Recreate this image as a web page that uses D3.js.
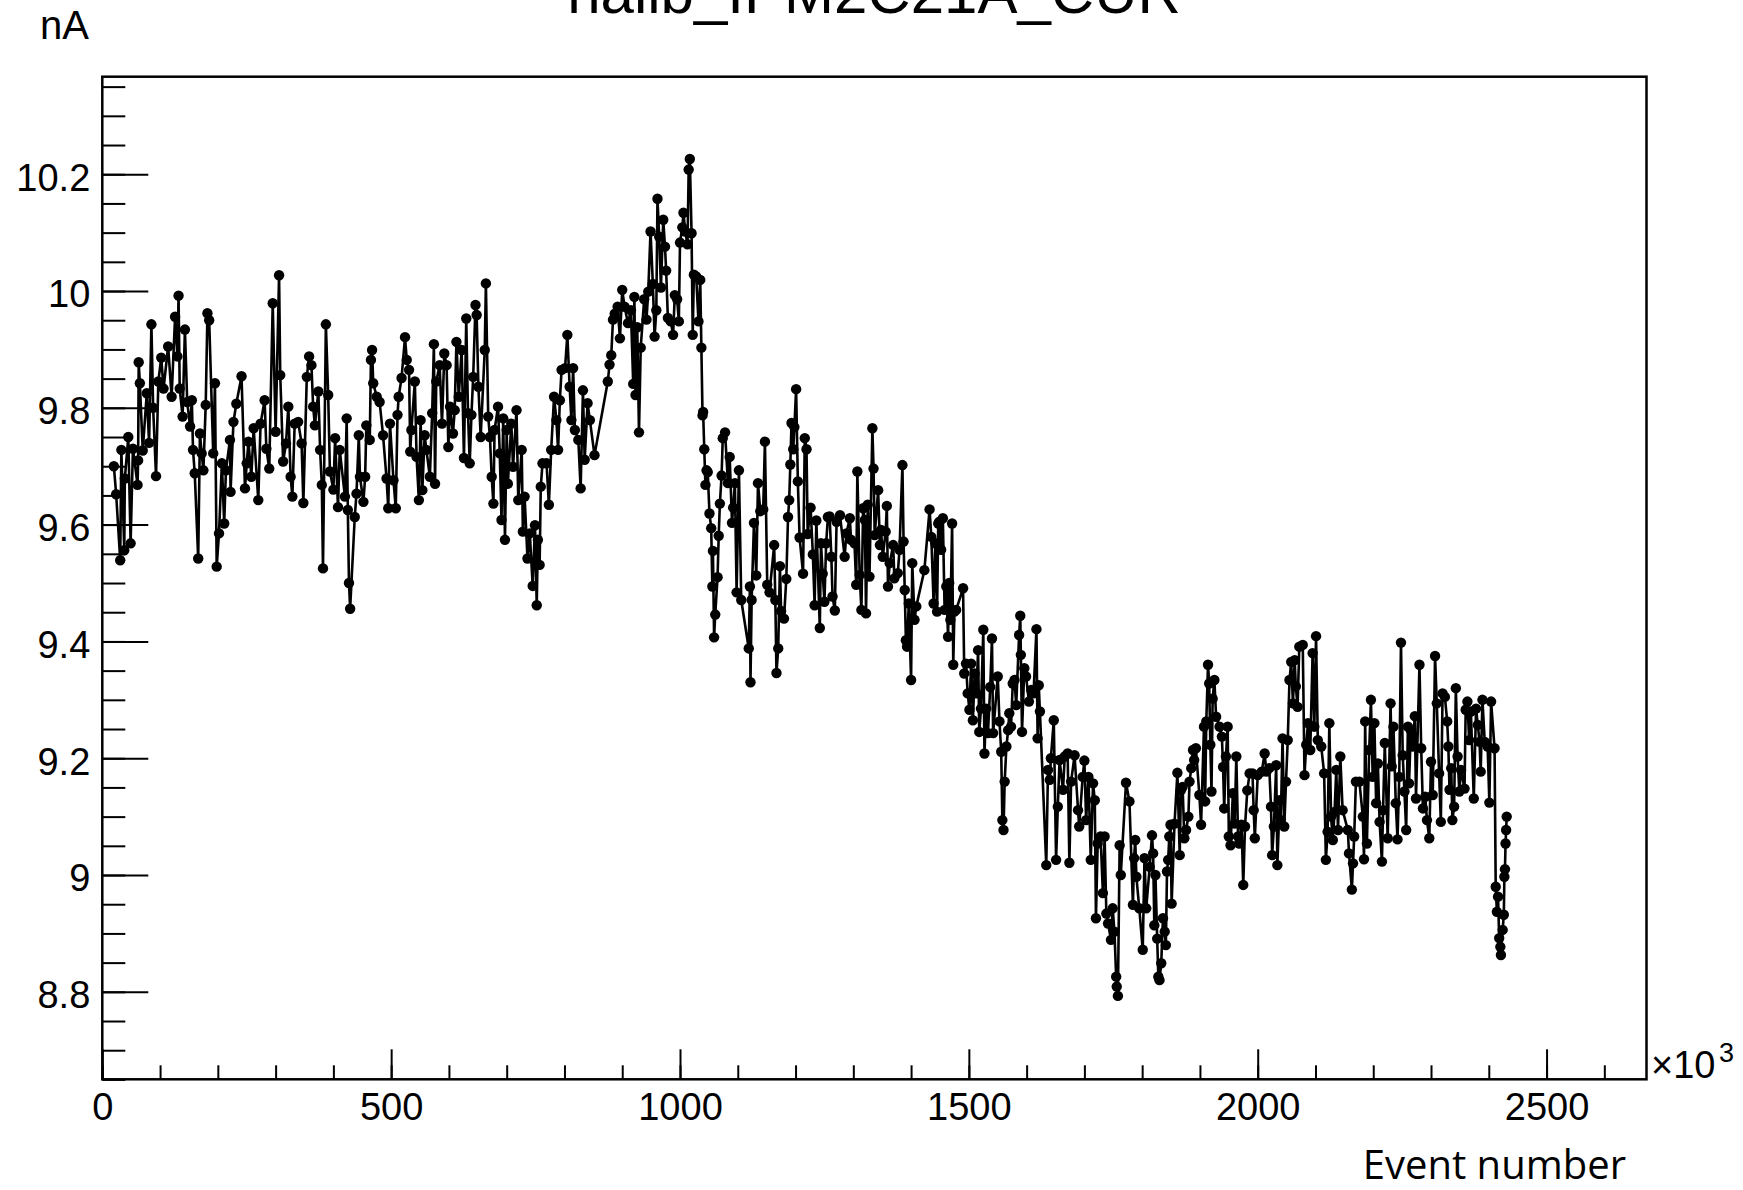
<!DOCTYPE html>
<meta charset="utf-8">
<style>
  body { margin: 0; background: #fff; }
  svg { display: block; }
  text { font-family: "Liberation Sans", Arial, sans-serif; fill: #000; }
</style>
<body>
<script src="https://d3js.org/d3.v7.min.js"></script>
<script>
var titleText = "hallb_IPM2C21A_CUR";
var yUnit = "nA";
var xTitle = "Event number";
var xExponent = "3";

// event number (x10^3)
var eventNumber = [
  20,24,31,33,38,39,45,49,53,61, 62,63,65,70,77,81,85,88,93,97,
  102,106,114,120,126,130,132,134,139,143, 147,152,155,157,160,166,169,172,175,179,
  182,185,192,195,198,202,207,211,214,221, 222,227,232,241,247,250,253,258,262,270,
  274,281,284,289,295,300,306,308,313,318, 322,326,329,333,339,345,348,354,358,362,
  365,368,374,377,380,382,387,391,394,400, 403,408,411,420,423,425,427,429,
  437,440,444,446,452,455,457,463,465,467, 469,475,480,486,492,495,498,504,508,511,
  513,518,524,527,531,533,535,541,544,548, 551,554,558,561,567,571,574,576,578,584,
  588,592,596,599,602,607,610,613,617,622, 626,630,633,636,639,642,646,648,651,655,
  662,664,668,671,674,677,679,685,688,691, 694,697,700,702,708,711,717,720,726,728,
  731,736,740,745,749,752,754,757,759,762, 769,773,777,782,786,789,792,795,801,805,
  809,812,815,818,824,828,832,835,840,844,
  852,875,878,881,884,887,892,896,900,904, 910,915,919,921,923,926,929,932,938,942,
  945,949,953,956,959,961,964,967,971,974, 976,979,984,988,991,995,998,1000,1004,1006,
  1009,1013,1015,1017,1020,1022,1024,1028,1032,1035, 1037,1039,1040,1042,1044,1046,1048,1051,1054,1056,
  1057,1059,1061,1065,1067,1069,1072,1074,1078,1083, 1086,1090,1092,1095,1098,1102,1106,1119,1121,1122,
  1124,1128,1132,1135,1139,1144,1147,1151,1155,1163, 1165,1167,1170,1173,1175,1180,1184,1187,1189,1191,
  1193,1196,1198,1201,1204,1207,1213,1216,1219,1221, 1226,1230,1233,1236,1242,1244,1247,1250,1253,1256,
  1259,1262,1264,1268,1271,1277,1285,1288,1294,1296, 1302,1305,1307,1311,1314,1317,1320,1322,1325,1328,
  1333,1335,1337,1343,1346,1348,1351,1356,1358,1360, 1363,1369,1371,1377,1380,1385,1387,1389,1391,1393,
  1396,1400,1402,1406,1409,1423,1432,1435,1439,1442, 1445,1447,1449,1452,1455,1458,1461,1464,1466,1468,
  1471,1473,1475,1478,1490,1492,1495,1498,1501,1504, 1507,1510,1513,1516,1518,1521,1525,1527,1530,1533,
  1537,1540,1542,1550,1553,1556,1558,1560,1562,1565, 1568,1570,1573,1576,1579,1582,1587,1589,1590,1592,
  1596,1599,1604,1608,1612,1617,1619,1621,1623,1634, 1637,1640,1642,1647,1651,1654,1657,1663,
  1666,1671,1674,1677,1683,1689,1691,1697,1700,1703, 1707,1711,1715,1718,1720,1723,1728,1732,1735,1738,
  1741,1746,1749,1752,1755,1756,1758,1761,1763,1772, 1778,1784,1786,1788,1790,1795,1801,1804,1807,1813,
  1817,1819,1821,1823,1826,1828,1830,1833,1836,1839, 1841,1843,1845,1847,1849,1851,1856,1861,1865,1867,
  1870,1873,1876,1880,1882,1885,1888,1890,1893,1899, 1902,1907,1909,1911,1914,1916,1918,1920,1922,1925,
  1928,1934,1938,1940,1942,1945,1948,1950,1953,1957, 1960,1963,1966,1968,1972,1975,1978,1982,1986,1991,
  1993,1995,2000,2007,2012,2015,2020,2023,2025,2028, 2032,2034,2038,2040,2043,2046,2049,2052,2055,2058,
  2061,
  2064,2066,2069,2072,2078,2081,2084,2087,2091,2095, 2098,2101,2104,2110,2115,2118,2121,2124,2127,2130,
  2133,2136,2139,2143,2147,2156,2158,2163,2165,2167, 2170,2176,2182,2184,2186,2189,2193,2196,2199,2202,
  2205,2208,2211,2215,2217,2220,2225,2230,2232,2235, 2239,2242,2245,2248,2251,2254,2257,2260,2262,2265,
  2268,2272,2274,2280,2283,2286,2290,2293,2297,2300, 2303,2307,2310,2314,2317,2320,2324,2328,2330,2332,
  2335,2337,2340,2343,2346,2349,2352,2358,2360,2363, 2366,2369,2374,2378,2381,2384,2386,2389,2393,2398,
  2401,2404,2410,2412,2414,2416,2418,2420,2421,2424, 2426,2427,2428,2429,2430,2431
];

// beam current (nA)
var current = [
  9.70,9.652,9.539,9.728,9.556,9.679,9.75,9.568,9.73,9.668, 9.71,9.878,9.842,9.727,9.825,9.74,9.943,9.80,9.683,9.845,
  9.886,9.833,9.905,9.819,9.956,9.888,9.992,9.833,9.785,9.934, 9.81,9.768,9.813,9.728,9.688,9.542,9.756,9.722,9.693,9.805,
  9.962,9.95,9.722,9.842,9.528,9.585,9.705,9.602,9.693,9.745, 9.656,9.776,9.807,9.854,9.662,9.705,9.742,9.682,9.765,9.642,
  9.773,9.813,9.73,9.696,9.979,9.759,10.027,9.856,9.708,9.739, 9.802,9.682,9.648,9.773,9.776,9.739,9.637,9.853,9.888,9.873,
  9.802,9.77,9.828,9.728,9.668,9.525,9.943,9.822,9.691,9.66, 9.748,9.63,9.728,9.648,9.782,9.625,9.50,9.456,
  9.613,9.653,9.753,9.682,9.639,9.682,9.77,9.745,9.882,9.899, 9.842,9.819,9.81,9.753,9.679,9.628,9.773,9.676,9.628,9.788,
  9.819,9.851,9.921,9.882,9.865,9.725,9.762,9.845,9.716,9.642, 9.779,9.659,9.753,9.728,9.682,9.791,9.909,9.67,9.845,9.873,
  9.773,9.893,9.873,9.733,9.802,9.756,9.796,9.913,9.819,9.899, 9.714,9.953,9.791,9.705,9.788,9.853,9.976,9.959,9.836,9.75,
  9.899,10.013,9.785,9.75,9.682,9.636,9.762,9.802,9.722,9.608, 9.782,9.574,9.762,9.67,9.773,9.699,9.796,9.642,9.728,9.588,
  9.648,9.542,9.585,9.495,9.599,9.462,9.574,9.531,9.665,9.705, 9.705,9.634,9.728,9.819,9.779,9.728,9.813,9.865,9.868,9.925,
  9.836,9.779,9.868,9.762,9.745,9.662,9.83,9.711,9.808,9.779,
  9.719,9.845,9.874,9.890,9.951,9.961,9.973,9.919,10.002,9.973, 9.945,9.967,9.841,9.990,9.822,9.938,9.758,9.903,9.986,9.951,
  9.999,10.102,10.012,9.922,9.967,10.158,10.093,10.006,10.122,10.076, 10.035,9.954,9.948,9.925,9.993,9.986,9.948,10.083,10.109,10.134,
  10.102,10.080,10.208,10.226,10.099,9.925,10.028,10.025,9.948,10.019, 9.903,9.787,9.793,9.729,9.668,9.693,9.690,9.619,9.594,9.494,
  9.555,9.407,9.446,9.510,9.581,9.636,9.684,9.748,9.758,9.671, 9.716,9.603,9.629,9.671,9.484,9.693,9.471,9.388,9.494,9.330,
  9.471,9.603,9.513,9.671,9.623,9.626,9.742,9.497,9.484,9.565, 9.471,9.346,9.388,9.529,9.452,9.439,9.507,9.613,9.642,9.703,
  9.774,9.729,9.767,9.832,9.674,9.578,9.516,9.748,9.729,9.584, 9.629,9.549,9.462,9.607,9.423,9.568,9.516,9.468,9.568,9.613,
  9.614,9.545,9.477,9.453,9.605,9.616,9.545,9.585,9.611,9.574, 9.568,9.497,9.691,9.514,9.454,9.628,9.608,9.448,9.634,9.511,
  9.765,9.696,9.582,9.659,9.565,9.591,9.545,9.588,9.632,9.494, 9.534,9.565,9.508,9.517,9.557,9.702,9.571,9.488,9.402,9.391,
  9.465,9.334,9.534,9.437,9.46,9.522,9.626,9.579,9.465,9.568, 9.451,9.602,9.605,9.557,9.611,9.454,9.494,9.408,9.5,9.437,
  9.602,9.36,9.451,9.454,9.491,9.345,9.362,9.311,9.283,9.362, 9.265,9.345,9.311,9.385,9.245,9.285,9.42,9.208,9.285,9.243,
  9.322,9.405,9.243,9.34,9.263,9.211,9.094,9.077,9.16,9.22, 9.248,9.277,9.254,9.328,9.334,9.291,9.411,9.444,9.377,9.245,
  9.354,9.34,9.297,9.317,9.311,9.421,9.234,9.325,9.28,9.017, 9.18,9.163,9.2,9.265,9.026,9.117,9.197,9.146,
  9.203,9.208,9.021,9.16,9.205,9.111,9.083,9.168,9.196,9.094, 9.168,9.026,9.157,9.128,8.926,9.054,9.066,8.969,9.066,8.934,
  8.917,8.889,8.943,8.903,8.826,8.809,8.793,9.051,9.0,9.158, 9.126,8.949,9.029,9.06,8.997,8.943,8.872,9.029,8.943,9.014,
  9.068,9.037,8.914,9.0,8.891,8.826,8.82,8.849,8.926,8.903, 8.88,9.006,9.026,9.066,9.086,8.951,9.088,9.175,9.034,9.145,
  9.151,9.063,9.077,9.1,9.16,9.183,9.214,9.197,9.217,9.137, 9.086,9.254,9.126,9.263,9.36,9.328,9.223,9.143,9.302,9.334,
  9.271,9.254,9.237,9.185,9.114,9.203,9.254,9.066,9.051,9.14, 9.088,9.203,9.066,9.054,9.086,8.983,9.083,9.145,9.174,9.174,
  9.111,9.063,9.171,9.177,9.208,9.177,9.183,9.117,9.034,9.083, 9.188,9.017,9.128,9.094,9.234,9.083,9.16,9.231,9.334,9.365,
  9.294,
  9.368,9.323,9.288,9.391,9.394,9.171,9.223,9.26,9.214,9.38, 9.254,9.409,9.231,9.22,9.174,9.026,9.074,9.26,9.1,9.06,
  9.108,9.18,9.077,9.203,9.111,9.077,9.037,8.975,9.02,9.066, 9.16,9.16,9.1,9.027,9.263,9.054,9.214,9.3,9.168,9.26,
  9.123,9.191,9.091,9.023,9.111,9.226,9.063,9.294,9.186,9.254, 9.123,9.061,9.168,9.398,9.205,9.143,9.077,9.254,9.157,9.248,
  9.22,9.272,9.131,9.36,9.217,9.114,9.134,9.094,9.063,9.194, 9.137,9.375,9.294,9.174,9.091,9.311,9.305,9.263,9.22,9.146,
  9.183,9.094,9.117,9.32,9.203,9.143,9.18,9.148,9.283,9.297, 9.231,9.28,9.131,9.285,9.257,9.228,9.177,9.3,9.228,9.22,
  9.124,9.297,9.217,8.98,8.937,8.963,8.892,8.877,8.863,8.906, 8.932,8.997,9.01,9.054,9.077,9.1
];

var yTickValues = [8.8, 9, 9.2, 9.4, 9.6, 9.8, 10, 10.2];
var yTickLabels = ["8.8", "9", "9.2", "9.4", "9.6", "9.8", "10", "10.2"];
var xTickValues = [0, 500, 1000, 1500, 2000, 2500];
var xTickLabels = ["0", "500", "1000", "1500", "2000", "2500"];

if (eventNumber.length != current.length) console.error("length mismatch", eventNumber.length, current.length);

var data = eventNumber.map(function(e, i){ return {x: e, y: current[i]}; });

var W = 1743, H = 1190;
var frame = {left: 102.3, right: 1646.5, top: 76.7, bottom: 1079.3};

var svg = d3.select("body").append("svg")
  .attr("width", W)
  .attr("height", H);

var x = d3.scaleLinear().domain([0, 2673]).range([frame.left, frame.right]);
var y = d3.scaleLinear().domain([8.6502, 10.367]).range([frame.bottom, frame.top]);

//minor ticks
var yMinor = d3.range(173, 208).map(function(i){ return i * 0.05; });
var xMinor = d3.range(0, 27).map(function(i){ return i * 100; });

svg.append("g")
  .attr("transform", "translate(" + frame.left + ",0)")
  .call(d3.axisLeft(y).tickValues(yMinor).tickSize(-23).tickSizeOuter(0).tickFormat(""))
  .call(function(g){ g.select(".domain").remove(); g.selectAll("line").attr("stroke-width", 2); });

svg.append("g")
  .attr("transform", "translate(0," + frame.bottom + ")")
  .call(d3.axisBottom(x).tickValues(xMinor).tickSize(-14).tickSizeOuter(0).tickFormat(""))
  .call(function(g){ g.select(".domain").remove(); g.selectAll("line").attr("stroke-width", 2); });

//major ticks + labels
svg.append("g")
  .attr("transform", "translate(" + frame.left + ",0)")
  .call(d3.axisLeft(y).tickValues(yTickValues).tickSize(-46).tickSizeOuter(0).tickPadding(12)
    .tickFormat(function(d, i){ return yTickLabels[i]; }))
  .call(function(g){
    g.select(".domain").remove();
    g.selectAll("line").attr("stroke-width", 2);
    g.selectAll("text").attr("dy", "0.42em")
      .style("font-family", "'Liberation Sans', Arial, sans-serif").style("font-size", "38px");
  });

svg.append("g")
  .attr("transform", "translate(0," + frame.bottom + ")")
  .call(d3.axisBottom(x).tickValues(xTickValues).tickSize(-30).tickSizeOuter(0).tickPadding(14)
    .tickFormat(function(d, i){ return xTickLabels[i]; }))
  .call(function(g){
    g.select(".domain").remove();
    g.selectAll("line").attr("stroke-width", 2);
    g.selectAll("text")
      .style("font-family", "'Liberation Sans', Arial, sans-serif").style("font-size", "38px");
  });

//frame
svg.append("rect")
  .attr("x", frame.left).attr("y", frame.top)
  .attr("width", frame.right - frame.left)
  .attr("height", frame.bottom - frame.top)
  .attr("fill", "none")
  .attr("stroke", "#000")
  .attr("stroke-width", 2.5);

//the graph
var line = d3.line()
  .x(function(d){ return x(d.x); })
  .y(function(d){ return y(d.y); });

svg.append("path")
  .datum(data)
  .attr("d", line)
  .attr("fill", "none")
  .attr("stroke", "#000")
  .attr("stroke-width", 2.6)
  .attr("stroke-linejoin", "round");

svg.append("g").selectAll("circle")
  .data(data)
  .enter().append("circle")
  .attr("cx", function(d){ return x(d.x); })
  .attr("cy", function(d){ return y(d.y); })
  .attr("r", 5.2)
  .attr("fill", "#000");

//texts
svg.append("text")
  .attr("x", 874).attr("y", 13)
  .attr("text-anchor", "middle")
  .style("font-size", "60px")
  .text(titleText);

svg.append("text")
  .attr("x", 89).attr("y", 39)
  .attr("text-anchor", "end")
  .style("font-size", "40px")
  .text(yUnit);

svg.append("text")
  .attr("x", 1626).attr("y", 1179)
  .attr("text-anchor", "end")
  .style("font-family", "'Open Sans', sans-serif")
  .style("font-size", "40px")
  .text(xTitle);

svg.append("text")
  .attr("x", 1651).attr("y", 1078)
  .style("font-size", "38px")
  .text("\u00d710");

svg.append("text")
  .attr("x", 1719).attr("y", 1062)
  .style("font-size", "27px")
  .text(xExponent);
</script>
</body>
